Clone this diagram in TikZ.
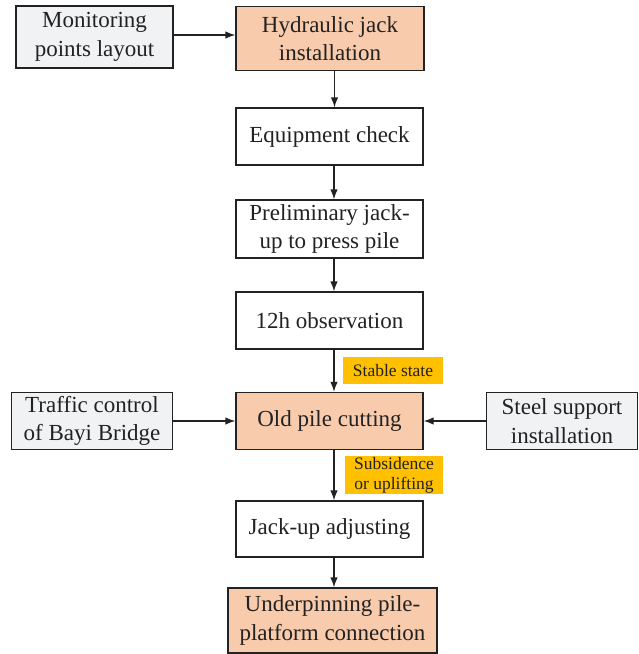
\documentclass[tikz,border=0pt]{standalone}
\usepackage{fontspec}
\setmainfont{Liberation Serif}
\usepackage{xcolor}
\usetikzlibrary{arrows.meta,positioning}
\definecolor{peach}{HTML}{F8CBAD}
\definecolor{greybox}{HTML}{F1F2F4}
\definecolor{tag}{HTML}{FFC000}
\definecolor{ink}{HTML}{222222}

\begin{document}
\begin{tikzpicture}[x=1pt,y=-1pt,
    box/.style={draw=ink,line width=1.3pt,fill=white,align=center,inner sep=0pt,
      font=\fontsize{23}{28.5}\selectfont,text=ink},
    keybox/.style={box,fill=peach},
    sidebox/.style={box,fill=greybox},
    tagbox/.style={fill=tag,align=center,inner sep=0pt,font=\fontsize{17.5}{20}\selectfont,text=ink},
    flow/.style={-{Latex[length=10pt,width=7.5pt]},ink,line width=1.3pt}]
  \useasboundingbox (0,0) rectangle (638,654);
  % main column
  \node[keybox,minimum width=188,minimum height=64] (hyd) at (330,38.5) {Hydraulic jack\\installation};
  \node[box,minimum width=187,minimum height=57] (chk) at (329.5,136.5) {Equipment check};
  \node[box,minimum width=187,minimum height=58] (pre) at (329.5,229) {Preliminary jack-\\up to press pile};
  \node[box,minimum width=187,minimum height=57] (obs) at (329.5,320.5) {12h observation};
  \node[keybox,minimum width=187,minimum height=57] (cut) at (329.5,421) {Old pile cutting};
  \node[box,minimum width=187,minimum height=56] (adj) at (329.5,529) {Jack-up adjusting};
  \node[keybox,minimum width=209,minimum height=65] (und) at (332.5,620.5) {Underpinning pile-\\platform connection};
  % side inputs
  \node[sidebox,minimum width=157,minimum height=62] (mon) at (94.5,37) {Monitoring\\points layout};
  \node[sidebox,minimum width=161,minimum height=57] (trf) at (92,421) {Traffic control\\of Bayi Bridge};
  \node[sidebox,minimum width=151,minimum height=57] (stl) at (562,421) {Steel support\\installation};
  % conditions
  \node[tagbox,minimum width=100,minimum height=27] (stb) at (393,370.5) {Stable state};
  \node[tagbox,minimum width=98,minimum height=38] (sub) at (394,475) {Subsidence\\or uplifting};
  \foreach \a/\b in {hyd/chk, chk/pre, pre/obs, obs/cut, cut/adj, adj/und}
    \draw[flow] ([xshift=4.5pt]\a.south) -- ([xshift=4.5pt]\a.south |- \b.north);
  \draw[flow] (mon.east |- 0,35) -- (hyd.west |- 0,35);
  \draw[flow] (trf) -- (cut);
  \draw[flow] (stl) -- (cut);
\end{tikzpicture}
\end{document}
